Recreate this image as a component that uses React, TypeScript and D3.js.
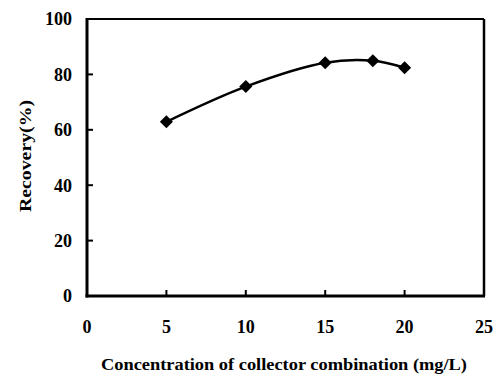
import React from 'react'
import * as d3 from 'd3'

// collector concentration (mg/L) vs recovery (%)
const concentration = [5, 10, 15, 18, 20]
const recovery = [62.9, 75.6, 84.2, 84.9, 82.4]
const xTicks = [0, 5, 10, 15, 20, 25]
const yTicks = [0, 20, 40, 60, 80, 100]

const W = 493,
  H = 376
const margin = { left: 87, top: 19, right: 9, bottom: 80 }
const font = 'Liberation Serif, Times New Roman, DejaVu Serif, serif'

const App = () => {
  const x = d3
    .scaleLinear()
    .domain([0, 25])
    .range([margin.left, W - margin.right])
  const y = d3
    .scaleLinear()
    .domain([0, 100])
    .range([H - margin.bottom, margin.top])

  const pts = concentration.map((c, i) => [c, recovery[i]])
  const line = d3
    .line()
    .x(d => x(d[0]))
    .y(d => y(d[1]))
    .curve(d3.curveCatmullRom.alpha(0.5))

  const diamond = d3.symbol(d3.symbolSquare, 85)()

  const x0 = x(0),
    x1 = x(25),
    y0 = y(0),
    y1 = y(100)

  const txt = { fontFamily: font, fontWeight: 'bold' }

  return (
    <svg width={W} height={H} style={{ position: 'absolute', left: 0, top: 0, background: '#fff' }}>
      {/* frame */}
      <line x1={x0} y1={y1} x2={x1} y2={y1} stroke="#000" strokeWidth={2} />
      <line x1={x1} y1={y1} x2={x1} y2={y0} stroke="#000" strokeWidth={2.5} />
      <line x1={x0} y1={y1 - 1} x2={x0} y2={y0 + 1.5} stroke="#000" strokeWidth={3} />
      <line x1={x0 - 1.5} y1={y0} x2={x1 + 1} y2={y0} stroke="#000" strokeWidth={3} />

      {/* y ticks */}
      {yTicks.map(t => (
        <g key={'y' + t}>
          <line x1={x0} x2={x0 + 6} y1={y(t)} y2={y(t)} stroke="#000" strokeWidth={2} />
          <text x={72} y={y(t)} dy="0.35em" textAnchor="end" fontSize={18} style={txt}>
            {t}
          </text>
        </g>
      ))}

      {/* x ticks */}
      {xTicks.map(t => (
        <g key={'x' + t}>
          {t > 0 && t < 25 && (
            <line x1={x(t)} x2={x(t)} y1={y0} y2={y0 - 6} stroke="#000" strokeWidth={2} />
          )}
          <text x={x(t)} y={333} textAnchor="middle" fontSize={18} style={txt}>
            {t}
          </text>
        </g>
      ))}

      {/* series */}
      <path d={line(pts)} fill="none" stroke="#000" strokeWidth={2.5} />
      {pts.map((p, i) => (
        <path
          key={i}
          d={diamond}
          transform={`translate(${x(p[0])},${y(p[1])}) rotate(45)`}
          fill="#000"
        />
      ))}

      {/* axis titles */}
      <text
        x={284}
        y={370}
        textAnchor="middle"
        fontSize={17}
        style={txt}
        textLength={366}
        lengthAdjust="spacingAndGlyphs"
      >
        Concentration of collector combination (mg/L)
      </text>
      <text
        transform="translate(31,156) rotate(-90)"
        textAnchor="middle"
        fontSize={17}
        style={txt}
        textLength={112}
        lengthAdjust="spacingAndGlyphs"
      >
        Recovery(%)
      </text>
    </svg>
  )
}

export default App
